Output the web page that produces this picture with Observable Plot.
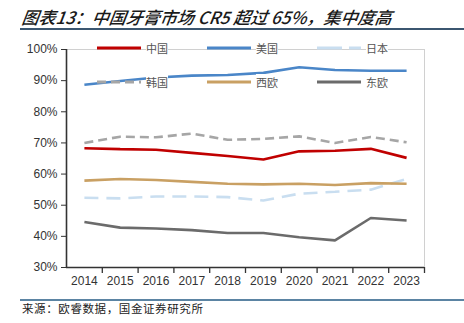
<!DOCTYPE html>
<html>
<head>
<meta charset="utf-8">
<script src="https://cdn.jsdelivr.net/npm/d3@7"></script>
<script src="https://cdn.jsdelivr.net/npm/@observablehq/plot@0.6"></script>
<style>
  html, body { margin: 0; padding: 0; background: #fff; }
  #wrap { position: relative; width: 464px; height: 323px; overflow: hidden; }
  #title { position: absolute; left: 22px; top: 4px; font-family: "Noto Sans CJK SC", sans-serif; font-style: italic; font-weight: 500; font-size: 17px; letter-spacing: 0px; color: #1a1a1a; white-space: nowrap; transform: skewX(-8deg); }
  #tline { position: absolute; left: 20px; top: 28px; width: 444px; height: 2px; background: #3b5670; }
  #sline { position: absolute; left: 20px; top: 299px; width: 444px; height: 2px; background: #5b84a3; }
  #source { position: absolute; left: 22px; top: 300px; font-family: "Noto Sans CJK SC", sans-serif; font-size: 11.5px; letter-spacing: 0.6px; color: #222; white-space: nowrap; }
  .leg { position: absolute; display: flex; align-items: center; font-family: "Noto Sans CJK SC", sans-serif; font-size: 11px; color: #555; white-space: nowrap; }
  .leg svg { margin-right: 5px; }
  #chart { position: absolute; left: 0; top: 0; }
</style>
</head>
<body>
<div id="wrap">
  <div id="chart"></div>
  <div id="title"></div>
  <div id="tline"></div>
  <div id="legend"></div>
  <div id="sline"></div>
  <div id="source"></div>
</div>
<script>
const titleText = "图表13：中国牙膏市场 CR5 超过 65%，集中度高";
const sourceText = "来源：欧睿数据，国金证券研究所";
const years = [2014, 2015, 2016, 2017, 2018, 2019, 2020, 2021, 2022, 2023];
const yTicks = [30, 40, 50, 60, 70, 80, 90, 100];
const seriesNames = ["中国", "美国", "日本", "韩国", "西欧", "东欧"];
const china   = [68.3, 68.0, 67.8, 66.8, 65.8, 64.7, 67.3, 67.5, 68.1, 65.2];
const usa     = [88.7, 89.9, 91.0, 91.6, 91.8, 92.5, 94.3, 93.4, 93.2, 93.2];
const japan   = [52.4, 52.2, 52.8, 52.8, 52.6, 51.5, 53.7, 54.3, 55.0, 58.4];
const korea   = [70.0, 72.0, 71.8, 73.0, 71.0, 71.3, 72.1, 70.0, 71.9, 70.2];
const westEu  = [57.9, 58.4, 58.1, 57.5, 56.9, 56.7, 56.9, 56.5, 57.1, 56.9];
const eastEu  = [44.6, 42.8, 42.5, 42.0, 41.1, 41.1, 39.7, 38.7, 45.9, 45.1];
const seriesValues = [china, usa, japan, korea, westEu, eastEu];

const styles = {
  "中国": {stroke: "#c00000", dash: null},
  "美国": {stroke: "#4a86c8", dash: null},
  "日本": {stroke: "#c9def0", dash: "14,8"},
  "韩国": {stroke: "#a6a6a6", dash: "9,5"},
  "西欧": {stroke: "#c9a063", dash: null},
  "东欧": {stroke: "#6b6b6b", dash: null}
};
const drawOrder = ["日本", "西欧", "东欧", "韩国", "中国", "美国"];

const rows = [];
seriesNames.forEach((name, si) => {
  years.forEach((yr, i) => rows.push({series: name, year: yr, value: seriesValues[si][i]}));
});

const boundaries = d3.range(years[0] - 0.5, years[years.length - 1] + 1, 1);

const lineMarks = drawOrder.map(name => Plot.line(rows.filter(d => d.series === name), {
  x: "year", y: "value", stroke: styles[name].stroke, strokeWidth: 2.6,
  strokeDasharray: styles[name].dash, strokeLinejoin: "miter", strokeLinecap: "butt"
}));

const chart = Plot.plot({
  width: 464,
  height: 323,
  marginTop: 49,
  marginBottom: 56,
  marginLeft: 66,
  marginRight: 40,
  style: {fontFamily: "Liberation Sans, Arial, sans-serif", fontSize: "12px", color: "#333", background: "transparent"},
  x: {type: "linear", domain: [years[0] - 0.5, years[years.length - 1] + 0.5]},
  y: {domain: [30, 100]},
  marks: [
    Plot.ruleY([100], {stroke: "#d0d0d0", strokeWidth: 1}),
    Plot.ruleX([years[years.length - 1] + 0.5], {stroke: "#d0d0d0", strokeWidth: 1}),
    ...lineMarks,
    Plot.axisY({ticks: yTicks, tickFormat: d => d + "%", tickSize: 5, tickPadding: 4, stroke: "#333", fill: "#333", fontSize: 12, label: null}),
    Plot.axisX({ticks: years, tickFormat: d => String(d), tickSize: 0, tickPadding: 9, fill: "#333", fontSize: 12, label: null}),
    Plot.ruleX(boundaries.slice(1), {x: d => d, y1: 30, y2: 30, stroke: "#333", strokeWidth: 1.3, insetBottom: -6}),
    Plot.ruleX([years[0] - 0.5], {stroke: "#333", strokeWidth: 1.6}),
    Plot.ruleY([30], {stroke: "#333", strokeWidth: 1.6})
  ]
});
document.getElementById("chart").appendChild(chart);

document.getElementById("title").textContent = titleText;
document.getElementById("source").textContent = sourceText;

// legend
const legendLayout = [
  ["中国", 97, 48], ["美国", 207, 48], ["日本", 317, 48],
  ["韩国", 97, 82], ["西欧", 207, 82], ["东欧", 317, 82]
];
const legend = document.getElementById("legend");
legendLayout.forEach(([name, lx, ly]) => {
  const st = styles[name];
  const div = document.createElement("div");
  div.className = "leg";
  div.style.left = lx + "px";
  div.style.top = (ly - 9) + "px";
  div.style.height = "18px";
  const dash = st.dash ? (name === "日本" ? "25,7" : "9,5") : "none";
  div.innerHTML = `<svg width="44" height="6"><line x1="0" x2="44" y1="3" y2="3" stroke="${st.stroke}" stroke-width="3" stroke-dasharray="${dash}"/></svg><span style="background:#fff">${name}</span>`;
  legend.appendChild(div);
});
</script>
</body>
</html>
